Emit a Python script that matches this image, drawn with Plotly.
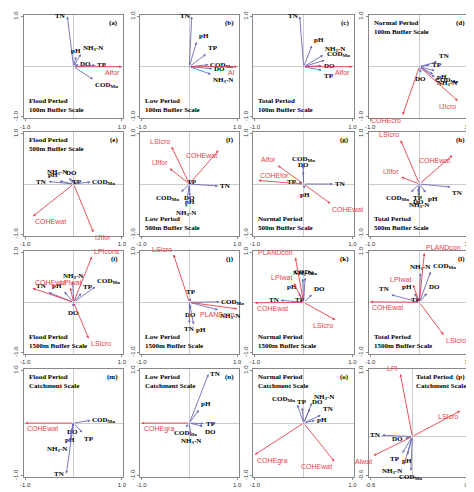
import plotly.graph_objects as go

COD = "COD<sub>Mn</sub>"
NH3 = "NH<sub>3</sub>-N"

# species (water quality) scores and environmental (landscape) scores per panel
sp_a = [("TN", -0.13, 1.0), ("pH", 0.05, 0.2), (NH3, 0.15, 0.25), ("DO", 0.1, 0.05), ("TP", 0.45, 0.03), (COD, 0.4, -0.25)]
env_a = [("Alfor", 1.0, 0.0)]
sp_b = [("TN", 0.05, 1.0), ("pH", 0.15, 0.49), ("TP", 0.35, 0.25), (COD, 0.4, 0.04), ("DO", 0.48, -0.04), (NH3, 0.45, -0.15)]
env_b = [("Al", 1.0, 0.0)]
sp_c = [("TN", -0.08, 1.0), ("pH", 0.17, 0.42), (NH3, 0.4, 0.23), (COD, 0.43, 0.13), ("DO", 0.37, 0.02), ("TP", 0.37, -0.07)]
env_c = [("Alfor", 1.0, 0.0)]
sp_d = [("TN", 0.36, 0.1), ("TP", 0.21, 0.04), ("pH", 0.31, -0.08), (COD, 0.28, -0.15), (NH3, 0.31, -0.21), ("DO", 0.03, -0.12)]
env_d = [("IJIcro", 0.78, -0.68), ("COHEcro", -0.34, -0.96)]
sp_e = [("TN", -0.52, 0.05), ("pH", -0.29, 0.06), (NH3, -0.09, 0.12), ("DO", -0.04, 0.09), ("TP", 0.08, 0.04), (COD, 0.35, 0.04)]
env_e = [("COHEwat", -0.84, -0.64), ("IJIfor", 0.41, -0.96)]
sp_f = [("TP", 0.05, 0.04), ("TN", 0.6, -0.04), (COD, -0.17, -0.16), ("DO", 0.0, -0.16), ("pH", 0.01, -0.24), (NH3, -0.07, -0.46)]
env_f = [("LSIcro", -0.37, 0.74), ("COHEwat", 0.61, 0.67), ("IJIfor", -0.41, 0.31)]
sp_g = [(COD, -0.01, 0.37), ("DO", -0.01, 0.25), ("TP", -0.1, 0.04), ("TN", 0.6, 0.0), ("pH", 0.02, -0.09)]
env_g = [("Alfor", -0.53, 0.37), ("COHEfor", -0.93, 0.07), ("COHEwat", 0.55, -0.39)]
sp_h = [("TN", 0.63, -0.06), ("pH", 0.13, -0.17), ("TP", -0.03, -0.16), ("DO", -0.02, -0.24), (NH3, 0.0, -0.3), (COD, -0.17, -0.16)]
env_h = [("LSIcro", -0.38, 0.87), ("COHEwat", 0.67, 0.57), ("IJIfor", -0.37, 0.14)]
sp_i = [(NH3, -0.02, 0.41), ("TP", 0.16, 0.18), (COD, 0.45, 0.31), ("pH", -0.19, 0.21), ("TN", -0.52, 0.2), ("DO", -0.01, -0.09)]
env_i = [("LPIcons", 0.38, 0.91), ("LPIwat", -0.07, 0.29), ("COHEwat", -0.85, 0.28), ("LSIcro", 0.31, -0.72)]
sp_j = [("TP", 0.03, 0.08), (COD, 0.63, 0.01), ("DO", 0.03, -0.13), ("TN", 0.0, -0.42), ("pH", 0.09, -0.44), (NH3, 0.6, -0.15)]
env_j = [("LSIcro", -0.33, 0.95), ("PLANDcon", 1.0, -0.13)]
sp_k = [(COD, 0.03, 0.49), (NH3, -0.02, 0.47), ("DO", 0.17, 0.15), ("pH", -0.1, 0.18), ("TP", -0.07, 0.05), ("TN", -0.47, 0.04)]
env_k = [("PLANDcon", -0.17, 0.89), ("LPIwat", -0.2, 0.38), ("COHEwat", -1.0, -0.01), ("LSIcro", 0.65, -0.35)]
sp_l = [(NH3, 0.02, 0.58), (COD, 0.23, 0.61), ("DO", 0.15, 0.18), ("pH", -0.1, 0.18), ("TP", -0.07, 0.05), ("TN", -0.57, 0.15)]
env_l = [("PLANDcon", 0.1, 0.98), ("LPIwat", -0.13, 0.35), ("COHEwat", -1.0, 0.01), ("LSIcro", 0.49, -0.65)]
sp_m = [(COD, 0.35, 0.05), ("TP", 0.18, -0.18), ("DO", -0.03, -0.06), ("pH", -0.07, -0.21), (NH3, -0.09, -0.37), ("TN", -0.15, -0.96)]
env_m = [("COHEwat", -1.0, 0.0)]
sp_n = [("TN", 0.4, 0.93), ("pH", 0.2, 0.25), ("TP", 0.3, -0.01), ("DO", 0.28, -0.06), (COD, -0.07, -0.08), (NH3, 0.03, -0.23)]
env_n = [("COHEgra", -1.0, 0.0)]
sp_o = [(COD, -0.13, 0.35), ("TP", -0.03, 0.29), ("DO", 0.13, 0.28), (NH3, 0.17, 0.38), ("TN", 0.35, 0.15), ("pH", 0.23, 0.05)]
env_o = [("COHEgra", -1.0, -0.6), ("COHEwat", 0.63, -0.73)]
sp_p = [("TN", -0.43, 0.02), ("DO", -0.1, -0.03), ("TP", -0.14, -0.25), ("pH", -0.07, -0.28), (NH3, -0.12, -0.43), (COD, -0.02, -0.52)]
env_p = [("LPI", -0.17, 0.95), ("LSIcro", 0.68, 0.39), ("Alwat", -0.55, -0.29)]

letters = list("abcdefghijklmnop")
periods = ["Flood Period", "Low Period", "Total Period", "Normal Period"] + \
          ["Flood Period", "Low Period", "Normal Period", "Total Period"] * 2 + \
          ["Flood Period", "Low Period", "Normal Period", "Total Period"]
scales = ["100m Buffer Scale"] * 4 + ["500m Buffer Scale"] * 4 + ["1500m Buffer Scale"] * 4 + ["Catchment Scale"] * 4
label_top = [False, False, False, True, True, False, False, False, False, False, False, False, True, True, True, True]
species = [sp_a, sp_b, sp_c, sp_d, sp_e, sp_f, sp_g, sp_h, sp_i, sp_j, sp_k, sp_l, sp_m, sp_n, sp_o, sp_p]
envs = [env_a, env_b, env_c, env_d, env_e, env_f, env_g, env_h, env_i, env_j, env_k, env_l, env_m, env_n, env_o, env_p]

W, H = 474, 492
col_px = [(12, 113), (130, 230), (245, 347), (362, 465)]
row_px = [(3, 108), (122, 227), (242, 347), (362, 472)]
SP_COL = "#6b6bb5"
ENV_COL = "#e8404a"
SERIF = "Liberation Serif"

fig = go.Figure()
layout = dict(width=W, height=H, margin=dict(l=0, r=0, t=0, b=0),
              plot_bgcolor="white", paper_bgcolor="white", showlegend=False)
annotations = []


def anchors(x, y, is_env):
    if is_env and abs(x) > 0.55:
        xanc = "left" if x < 0 else "right"
        yanc = "bottom" if (y > 0.02 and x < 0) else "top"
        return xanc, yanc
    if not is_env and abs(y) > 0.85:
        return ("left" if x > 0.2 else "right"), "middle"
    xanc = "left" if x > 0.08 else ("right" if x < -0.08 else "center")
    yanc = "bottom" if y > 0.05 else ("top" if y < -0.05 else "middle")
    return xanc, yanc


for k in range(16):
    r, c = divmod(k, 4)
    n = "" if k == 0 else str(k + 1)
    xa, ya = "x" + n, "y" + n
    last = (k == 15)
    xr = [-0.62, 0.82] if last else [-1.03, 1.03]
    yr = [-0.62, 1.03] if last else [-1.03, 1.03]
    tx = [-0.6, 0.8] if last else [-1, 1]
    ty = [-0.6, 1.0] if last else [-1, 1]
    x0, x1 = col_px[c]
    y0, y1 = row_px[r]
    ax_common = dict(showgrid=False, zeroline=True, zerolinecolor="#cccccc", zerolinewidth=0.8,
                     showline=True, linecolor="#888888", mirror=True, ticks="outside", ticklen=2,
                     tickcolor="#888888", tickfont=dict(size=6, color="#333333", family="Liberation Sans"))
    layout["xaxis" + n] = dict(ax_common, domain=[x0 / W, x1 / W], range=xr, anchor=ya,
                               tickvals=tx, ticktext=["%.1f" % v for v in tx])
    layout["yaxis" + n] = dict(ax_common, domain=[1 - y1 / H, 1 - y0 / H], range=yr, anchor=xa,
                               tickvals=ty, ticktext=["%.1f" % v for v in ty], tickangle=-90)

    for group, is_env in ((species[k], False), (envs[k], True)):
        col = ENV_COL if is_env else SP_COL
        font = dict(family="Liberation Sans", size=7, color=ENV_COL) if is_env else \
            dict(family=SERIF, size=7, color="black")
        for name, x, y in group:
            annotations.append(dict(x=x, y=y, ax=0, ay=0, xref=xa, yref=ya, axref=xa, ayref=ya,
                                    showarrow=True, arrowhead=2, arrowsize=0.6, arrowwidth=0.9,
                                    arrowcolor=col, text=""))
            xanc, yanc = anchors(x, y, is_env)
            txt = name if is_env else "<b>%s</b>" % name
            annotations.append(dict(x=x, y=y, xref=xa, yref=ya, text=txt, showarrow=False,
                                    xanchor=xanc, yanchor=yanc, font=font))

    # corner text
    top = label_top[k]
    annotations.append(dict(x=0.45 if last else 0.03, y=0.98 if top else 0.02,
                            xref=xa + " domain", yref=ya + " domain", showarrow=False,
                            xanchor="left", yanchor="top" if top else "bottom", align="left",
                            text="<b>%s<br>%s</b>" % (periods[k], scales[k]),
                            font=dict(family=SERIF, size=7, color="black")))
    annotations.append(dict(x=0.97, y=0.98, xref=xa + " domain", yref=ya + " domain", showarrow=False,
                            xanchor="right", yanchor="top", text="<b>(%s)</b>" % letters[k],
                            font=dict(family=SERIF, size=7, color="black")))
    fig.add_trace(go.Scatter(x=[0], y=[0], mode="markers", marker=dict(size=1, color=SP_COL),
                             xaxis=xa, yaxis=ya, hoverinfo="skip"))

layout["annotations"] = annotations
fig.update_layout(**layout)
fig.write_html("out.html")
